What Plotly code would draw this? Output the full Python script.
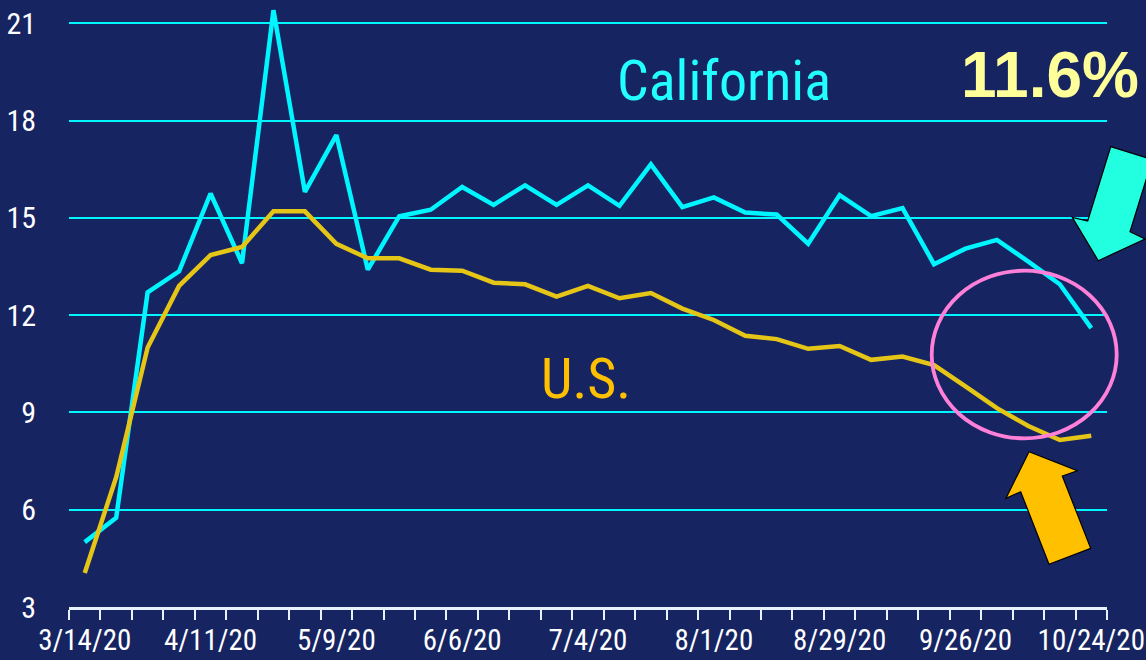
import plotly.graph_objects as go

weeks = ["3/14/20", "3/21/20", "3/28/20", "4/4/20", "4/11/20", "4/18/20", "4/25/20",
         "5/2/20", "5/9/20", "5/16/20", "5/23/20", "5/30/20", "6/6/20", "6/13/20",
         "6/20/20", "6/27/20", "7/4/20", "7/11/20", "7/18/20", "7/25/20", "8/1/20",
         "8/8/20", "8/15/20", "8/22/20", "8/29/20", "9/5/20", "9/12/20", "9/19/20",
         "9/26/20", "10/3/20", "10/10/20", "10/17/20", "10/24/20"]

california = [5.0, 5.75, 12.7, 13.35, 15.75, 13.6, 21.4, 15.8, 17.55, 13.4, 15.05,
              15.25, 15.95, 15.4, 16.0, 15.4, 16.0, 15.37, 16.65, 15.33, 15.63, 15.16,
              15.1, 14.2, 15.7, 15.05, 15.3, 13.57, 14.05, 14.32, 13.65, 12.95, 11.6]

us = [4.05, 7.0, 11.0, 12.9, 13.85, 14.1, 15.2, 15.2, 14.2, 13.75, 13.75, 13.4, 13.37,
      13.0, 12.95, 12.57, 12.9, 12.52, 12.68, 12.2, 11.85, 11.36, 11.26, 10.96, 11.05,
      10.62, 10.72, 10.46, 9.8, 9.13, 8.58, 8.15, 8.28]

y_ticks = [3, 6, 9, 12, 15, 18, 21]
x_labels = ["3/14/20", "4/11/20", "5/9/20", "6/6/20", "7/4/20", "8/1/20",
            "8/29/20", "9/26/20", "10/24/20"]

BG = "#162462"
CYAN = "#00F6FF"
GOLD = "#E5C616"
NARROW = "Roboto Condensed, Liberation Sans, Arial, sans-serif"

# plot-area pixel geometry (for decorative shapes)
PX0, PX1, PY0, PY1 = 69, 1107, 7, 607


def px(x):
    return (x - PX0) / (PX1 - PX0)


def py(y):
    return (PY1 - y) / (PY1 - PY0)


def poly(points):
    return "M " + " L ".join(f"{px(a):.5f},{py(b):.5f}" for a, b in points) + " Z"


fig = go.Figure()
fig.add_trace(go.Scatter(x=weeks, y=california, mode="lines",
                         line=dict(color=CYAN, width=4.5), name="California"))
fig.add_trace(go.Scatter(x=weeks, y=us, mode="lines",
                         line=dict(color=GOLD, width=4.5), name="U.S."))

cyan_arrow = [(1110.7, 146.7), (1152.3, 159.6), (1130, 231.7), (1145, 239),
              (1098.3, 260.7), (1072.3, 217.3), (1087.7, 221)]
gold_arrow = [(1029, 451.7), (1077.3, 470.7), (1062.3, 476), (1090.7, 548.3),
              (1049, 564.3), (1020.7, 491.7), (1006, 498.3)]

shapes = [
    dict(type="circle", xref="paper", yref="paper",
         x0=px(931.7), x1=px(1116.7), y0=py(438.3), y1=py(270.7),
         line=dict(color="#FF80D8", width=3.8)),
    dict(type="path", xref="paper", yref="paper", path=poly(cyan_arrow),
         fillcolor="#22FFE0", line=dict(color="#000000", width=1.2)),
    dict(type="path", xref="paper", yref="paper", path=poly(gold_arrow),
         fillcolor="#FFC000", line=dict(color="#000000", width=1.2)),
]

annotations = [
    dict(text="California", xref="paper", yref="paper", x=px(724), y=py(81),
         xanchor="center", yanchor="middle", showarrow=False,
         font=dict(family=NARROW, size=56, color="#22FFFF")),
    dict(text="<b>11.6%</b>", xref="paper", yref="paper", x=px(1050), y=py(75),
         xanchor="center", yanchor="middle", showarrow=False,
         font=dict(family="Liberation Sans, Arial, sans-serif", size=64, color="#FFFF99")),
    dict(text="U.S.", xref="paper", yref="paper", x=px(586), y=py(379),
         xanchor="center", yanchor="middle", showarrow=False,
         font=dict(family=NARROW, size=56, color="#FFC000")),
]

fig.update_layout(
    width=1146, height=660,
    margin=dict(l=PX0, r=1146 - PX1, t=PY0, b=660 - PY1, autoexpand=False),
    paper_bgcolor=BG, plot_bgcolor=BG,
    showlegend=False,
    shapes=shapes,
    annotations=annotations,
    xaxis=dict(
        type="category", automargin=False,
        tickmode="array", tickvals=weeks,
        ticktext=[w if w in x_labels else "" for w in weeks],
        tickson="boundaries", tickangle=0,
        ticks="outside", ticklen=10, tickwidth=2, tickcolor="#E8F2FF",
        ticklabelstandoff=5,
        showline=True, linecolor="#E8F2FF", linewidth=2.5,
        showgrid=False, zeroline=False,
        tickfont=dict(family=NARROW, size=29, color="#FFFFFF"),
        range=[-0.5, len(weeks) - 0.5],
    ),
    yaxis=dict(
        range=[3, 21.5], automargin=False,
        tickmode="array", tickvals=y_ticks,
        showgrid=True, gridcolor=CYAN, gridwidth=2,
        zeroline=False, showline=False,
        ticks="outside", ticklen=26, tickcolor="rgba(0,0,0,0)",
        tickfont=dict(family=NARROW, size=30, color="#FFFFFF"),
    ),
)

fig.write_html("out.html", config={"displayModeBar": False},
               post_script="document.body.style.margin='0';")
